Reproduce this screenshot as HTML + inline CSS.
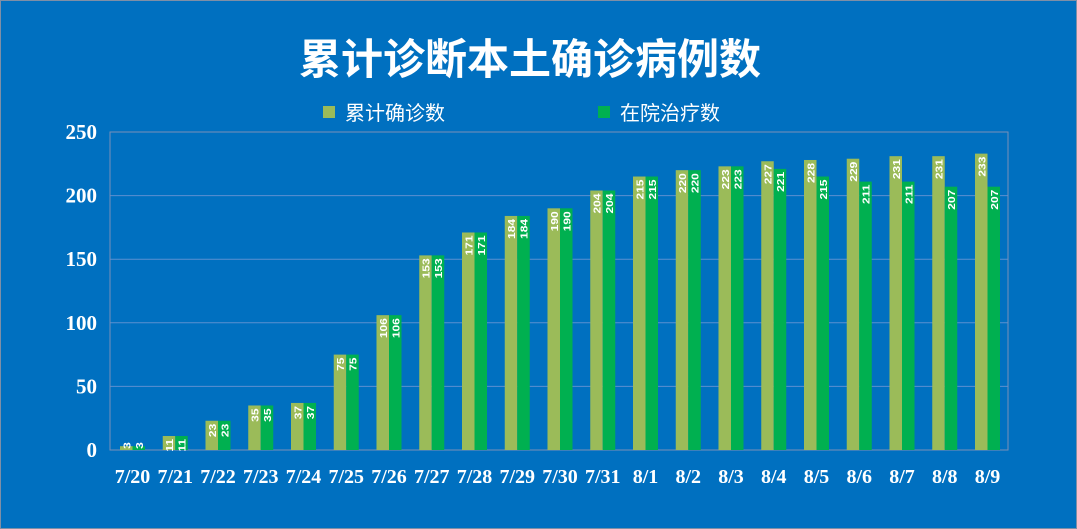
<!DOCTYPE html>
<html><head><meta charset="utf-8"><style>
html,body{margin:0;padding:0;background:#0070C0;}
svg{display:block}
</style></head><body>
<svg width="1077" height="529" xmlns="http://www.w3.org/2000/svg">
<rect x="0" y="0" width="1077" height="529" fill="#0070C0"/>
<rect x="0.5" y="0.5" width="1076" height="528" fill="none" stroke="#7f8fa6" stroke-width="1"/>
<text x="530" y="74" text-anchor="middle" fill="#fff" font-family="'Liberation Sans','Noto Sans CJK SC',sans-serif" font-weight="bold" font-size="42">累计诊断本土确诊病例数</text>
<rect x="323" y="106" width="12" height="12" fill="#9BBB59"/>
<text x="345" y="120" fill="#fff" font-family="'Liberation Sans','Noto Sans CJK SC',sans-serif" font-size="20">累计确诊数</text>
<rect x="598" y="106" width="12" height="12" fill="#00B050"/>
<text x="620" y="120" fill="#fff" font-family="'Liberation Sans','Noto Sans CJK SC',sans-serif" font-size="20">在院治疗数</text>
<g id="g"></g>
</svg>
<script>
var ns="http://www.w3.org/2000/svg",g=document.getElementById("g");
function el(t,a,txt){var e=document.createElementNS(ns,t);for(var k in a)e.setAttribute(k,a[k]);if(txt!=null)e.textContent=txt;g.appendChild(e);return e;}
var L=110,R=1008,T=132,B=450;
function Y(v){return B-v*(B-T)/250;}
for(var v=0;v<=250;v+=50){
 var y=Y(v);
 el("line",{x1:L,x2:R,y1:y,y2:y,stroke:v==0?"#8a9bb5":"#5b8fd0","stroke-width":1});
 el("text",{x:97,y:y+7,"text-anchor":"end",fill:"#fff","font-family":"'Liberation Serif',serif","font-weight":"bold","font-size":21},v);
}
el("rect",{x:L,y:T,width:R-L,height:B-T,fill:"none",stroke:"#7a8fb8","stroke-width":1});
var a=[3,11,23,35,37,75,106,153,171,184,190,204,215,220,223,227,228,229,231,231,233];
var b=[3,11,23,35,37,75,106,153,171,184,190,204,215,220,223,221,215,211,211,207,207];
var lab=["7/20","7/21","7/22","7/23","7/24","7/25","7/26","7/27","7/28","7/29","7/30","7/31","8/1","8/2","8/3","8/4","8/5","8/6","8/7","8/8","8/9"];
for(var i=0;i<21;i++){
 var x=120+i*42.75;
 [[a[i],"#9BBB59",x],[b[i],"#00B050",x+12.5]].forEach(function(p){
  var y=Y(p[0]);
  el("rect",{x:p[2],y:y,width:12.5,height:B-y,fill:p[1]});
  var cx=p[2]+6.25, ty=p[0]<10?y-4:y+3;
  el("text",{x:0,y:0,transform:"translate("+(cx+4)+","+ty+") rotate(-90) scale(1,0.85)","text-anchor":"end",fill:"#fff","font-family":"'Liberation Sans',sans-serif","font-weight":"bold","font-size":12},p[0]);
 });
 el("text",{x:x+12.5,y:483,"text-anchor":"middle",fill:"#fff","font-family":"'Liberation Serif',serif","font-weight":"bold","font-size":20},lab[i]);
}
</script>
</body></html>
